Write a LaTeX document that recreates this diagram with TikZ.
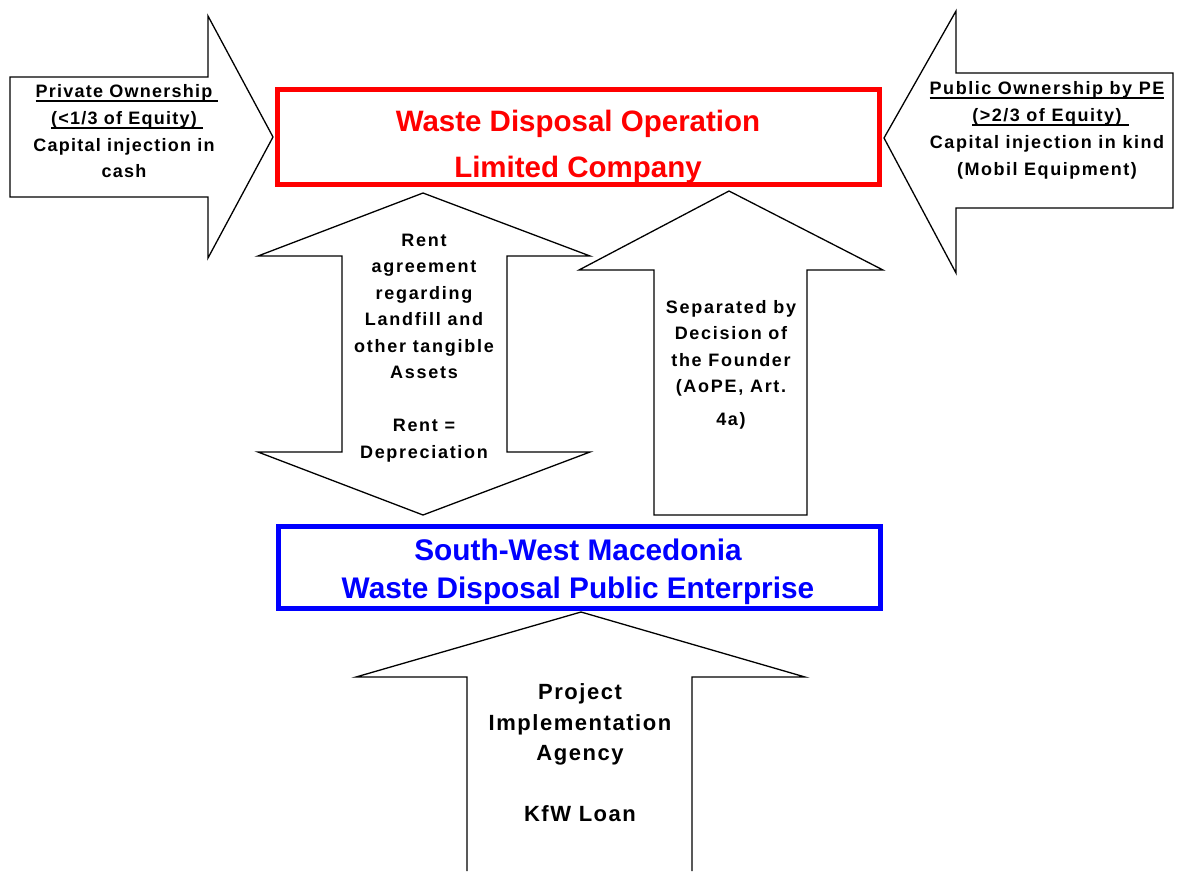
\documentclass[tikz,border=0pt]{standalone}
\usepackage{fontspec}
\setmainfont{Liberation Sans}
\newfontfamily\sidefont[LetterSpace=7]{Liberation Sans}
\newfontfamily\rightfont[LetterSpace=8.5]{Liberation Sans}
\newfontfamily\midfont[LetterSpace=9.5]{Liberation Sans}
\newfontfamily\botfont[LetterSpace=7]{Liberation Sans}
\newfontfamily\titfont{Liberation Sans}
\newcommand\ulsp[2]{\setbox0\hbox{#2}\rlap{\rule[-4.5pt]{\dimexpr\wd0+#1\relax}{1.6pt}}\box0}
\tikzset{
  blk/.style={draw=black, line width=1.3pt, fill=white, line join=miter},
  boxred/.style={draw=red, line width=5pt, fill=white, inner sep=0pt, minimum width=602pt},
  boxblue/.style={draw=blue, line width=5pt, fill=white, inner sep=0pt, minimum width=602pt},
  sidetxt/.style={anchor=base, inner sep=0pt, font={\fontsize{18}{20}\sidefont\bfseries}},
  righttxt/.style={anchor=base, inner sep=0pt, font={\fontsize{18}{20}\rightfont\bfseries}},
  midtxt/.style={anchor=base, inner sep=0pt, font={\fontsize{18}{20}\midfont\bfseries}},
  bottxt/.style={anchor=base, inner sep=0pt, font={\fontsize{22}{24}\botfont\bfseries}},
  redtxt/.style={anchor=base, inner sep=0pt, text=red, font={\fontsize{29.5}{32}\titfont\bfseries}},
  bluetxt/.style={anchor=base, inner sep=0pt, text=blue, font={\fontsize{29.8}{32}\titfont\bfseries}},
}
\begin{document}
\begin{tikzpicture}[x=1pt,y=-1pt]
\useasboundingbox (0,0) rectangle (1181,871);
\fill[white] (0,0) rectangle (1181,871);
% side arrows
\draw[blk] (10,77) -- (208,77) -- (208,16) -- (273,137) -- (208,258) -- (208,197) -- (10,197) -- cycle;
\draw[blk] (1173,73) -- (956,73) -- (956,11) -- (884,138) -- (956,273) -- (956,208) -- (1173,208) -- cycle;
% double arrow
\draw[blk] (423,193) -- (590,256) -- (507,256) -- (507,452) -- (590,452) -- (423,515) -- (258,452) -- (342,452) -- (342,256) -- (258,256) -- cycle;
% up arrow
\draw[blk] (729,191) -- (883,270) -- (807,270) -- (807,515) -- (654,515) -- (654,270) -- (579,270) -- cycle;
% bottom arrow (open at the bottom)
\fill[white] (467,871) -- (467,677) -- (356,677) -- (581,612) -- (805,677) -- (692,677) -- (692,871) -- cycle;
\draw[line width=1.3pt, line join=miter] (467,871) -- (467,677) -- (356,677) -- (581,612) -- (805,677) -- (692,677) -- (692,871);
% boxes
\node[boxred, minimum height=95pt] (wdo) at (578,136.5) {};
\node[boxblue, minimum height=82pt] (swm) at (579,567) {};
% box texts
\node[redtxt] (wdo1) at (578,131) {Waste Disposal Operation};
\node[redtxt] (wdo2) at (578,177) {Limited Company};
\node[bluetxt] (swm1) at (578,560) {South-West Macedonia};
\node[bluetxt] (swm2) at (578,598) {Waste Disposal Public Enterprise};
% left arrow text
\node[sidetxt] (l1) at (124,97) {\ulsp{6pt}{Private Ownership}};
\node[sidetxt] (l2) at (124,124) {\ulsp{6pt}{(<1/3 of Equity)}};
\node[sidetxt] (l3) at (124,151) {Capital injection in};
\node[sidetxt] (l4) at (124,177) {cash};
% right arrow text
\node[righttxt] (r1) at (1047,94) {\ulsp{0pt}{Public Ownership by PE}};
\node[righttxt] (r2) at (1047,121) {\ulsp{7pt}{(>2/3 of Equity)}};
\node[righttxt] (r3) at (1047,148) {Capital injection in kind};
\node[righttxt] (r4) at (1047,175) {(Mobil Equipment)};
% double arrow text
\node[midtxt] (d1) at (424,246) {Rent};
\node[midtxt] (d2) at (424,272.5) {agreement};
\node[midtxt] (d3) at (424,299) {regarding};
\node[midtxt] (d4) at (424,325.5) {Landfill and};
\node[midtxt] (d5) at (424,352) {other tangible};
\node[midtxt] (d6) at (424,378.5) {Assets};
\node[midtxt] (d7) at (424,431.5) {Rent =};
\node[midtxt] (d8) at (424,458) {Depreciation};
% up arrow text
\node[midtxt] (u1) at (731,313) {Separated by};
\node[midtxt] (u2) at (731,339) {Decision of};
\node[midtxt] (u3) at (731,366) {the Founder};
\node[midtxt] (u4) at (731,392) {(AoPE, Art.};
\node[midtxt] (u5) at (731,425) {4a)};
% bottom arrow text
\node[bottxt] (b1) at (580,699) {Project};
\node[bottxt] (b2) at (580,730) {Implementation};
\node[bottxt] (b3) at (580,760) {Agency};
\node[bottxt] (b4) at (580,821) {KfW Loan};
\end{tikzpicture}
\end{document}
